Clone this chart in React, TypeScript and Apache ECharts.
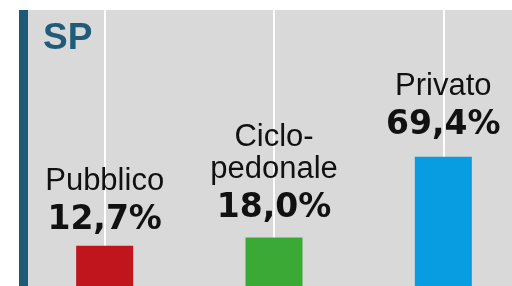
import React, { useEffect, useRef } from 'react';
import * as echarts from 'echarts';

const categories = ['Pubblico', 'Ciclopedonale', 'Privato'];
const labelLines = [['Pubblico'], ['Ciclo-', 'pedonale'], ['Privato']];
const shares = [12.7, 18.0, 69.4];
const barColors = ['#c1151d', '#3aa935', '#079de0'];
const labelGaps = [6, 10, 12];
const regionLabel = 'SP';

const FONT = '"Liberation Sans", Arial, Helvetica, sans-serif';
const BOLD_FONT = '"DejaVu Sans", "Liberation Sans", Arial, sans-serif';

const fmtPct = (v: number) => v.toFixed(1).replace('.', ',') + '%';

export default function App() {
  const ref = useRef<HTMLDivElement>(null);
  useEffect(() => {
    const chart = echarts.init(ref.current!, null, { renderer: 'svg' });
    chart.setOption({
      animation: false,
      grid: {
        left: 20, top: 10, width: 508, height: 276,
        outerBoundsMode: 'none', containLabel: false,
        show: true, backgroundColor: '#d9d9d9', borderWidth: 0,
      },
      xAxis: { type: 'category', data: categories, show: false },
      yAxis: { type: 'value', min: -12.9, max: 162.9, startValue: -12.9, show: false },
      graphic: [
        { type: 'rect', shape: { x: 19, y: 10, width: 9, height: 276 }, style: { fill: '#1d5a78' }, z: 10 },
        {
          type: 'text', z: 10,
          style: { text: regionLabel, x: 43, y: 36, verticalAlign: 'middle', fill: '#1f5c7a', font: `bold 37px ${FONT}` },
        },
      ],
      series: [
        {
          type: 'bar',
          barWidth: 57,
          clip: true,
          data: shares.map((v, i) => ({
            value: v,
            itemStyle: { color: barColors[i] },
            label: { distance: labelGaps[i] },
          })),
          label: {
            show: true,
            position: 'top',
            formatter: (p: any) => {
              const names = labelLines[p.dataIndex].map((l) => `{n|${l}}`).join('\n');
              return `${names}\n{d|${fmtPct(p.value)}}`;
            },
            rich: {
              n: { fontFamily: FONT, fontSize: 31, lineHeight: 32, color: '#111' },
              d: { fontFamily: BOLD_FONT, fontSize: 33, fontWeight: 'bold', lineHeight: 44, color: '#111' },
            },
          },
          markLine: {
            z: 1,
            silent: true,
            symbol: ['none', 'none'],
            label: { show: false },
            lineStyle: { color: '#ffffff', width: 2, type: 'solid' },
            data: categories.map((c) => ({ xAxis: c })),
          },
        },
      ],
    });
    return () => chart.dispose();
  }, []);
  return <div ref={ref} style={{ position: 'fixed', left: 0, top: 0, width: 512, height: 286 }} />;
}
